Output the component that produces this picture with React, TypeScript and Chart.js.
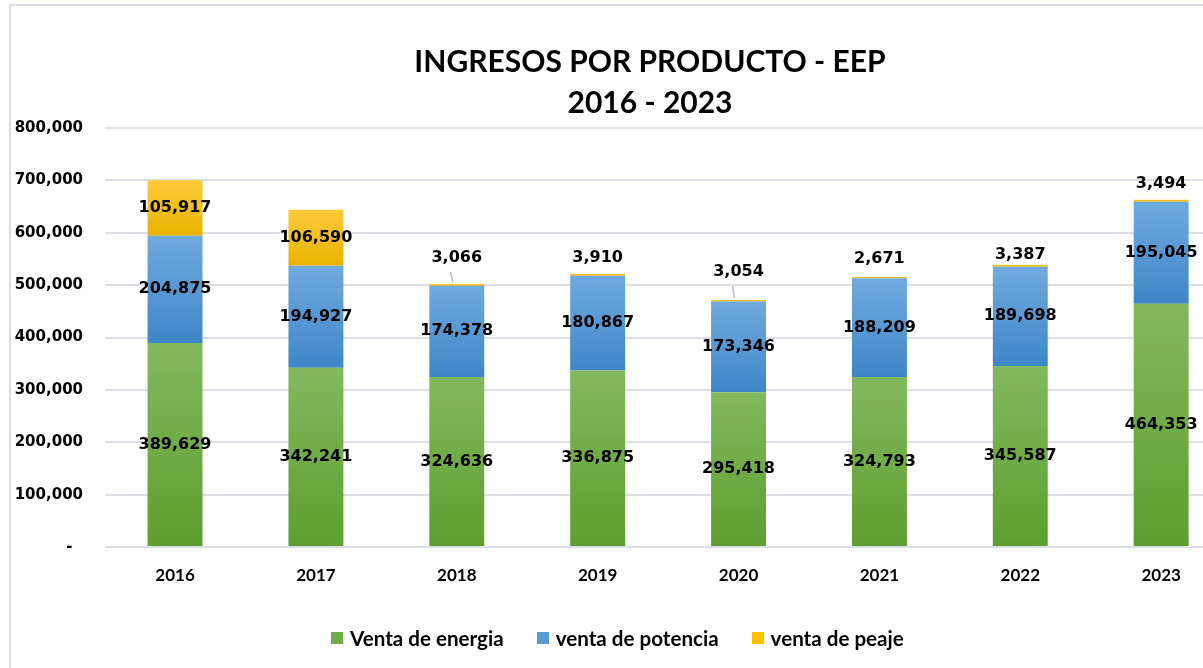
import React, { useEffect, useRef } from "react";
import { Chart, registerables } from "chart.js";

Chart.register(...registerables);

const years = ["2016", "2017", "2018", "2019", "2020", "2021", "2022", "2023"];
const ventaEnergia = [389629, 342241, 324636, 336875, 295418, 324793, 345587, 464353];
const ventaPotencia = [204875, 194927, 174378, 180867, 173346, 188209, 189698, 195045];
const ventaPeaje = [105917, 106590, 3066, 3910, 3054, 2671, 3387, 3494];
const seriesNames = ["Venta de energia", "venta de potencia", "venta de peaje"];
const titleLines = ["INGRESOS POR PRODUCTO - EEP", "2016 - 2023"];

// styling (not data)
const gradStops = [
  ["#82b95e", "#5e9e30"],
  ["#70aadf", "#3f86c7"],
  ["#ffca3a", "#e8b300"],
];
const legendColors = ["#70ad47", "#5b9bd5", "#ffc000"];
const peajeLift = [0, 0, 26, 16, 28, 18, 10, 16];
const peajeLeader = [false, false, true, false, true, false, false, false];

const allSeries = [ventaEnergia, ventaPotencia, ventaPeaje];

const fmt = (v: number) => v.toLocaleString("en-US");

function gradientFor(di: number) {
  return (ctx: any) => {
    const chart = ctx.chart;
    const y = chart.scales && chart.scales.y;
    if (!chart.chartArea || !y || ctx.type !== "data") return gradStops[di][0];
    const i = ctx.dataIndex;
    let start = 0;
    for (let k = 0; k < di; k++) start += allSeries[k][i];
    const end = start + allSeries[di][i];
    const top = y.getPixelForValue(end);
    const bottom = y.getPixelForValue(start);
    if (!isFinite(top) || !isFinite(bottom) || top === bottom) return gradStops[di][0];
    const g = chart.ctx.createLinearGradient(0, top, 0, bottom);
    g.addColorStop(0, gradStops[di][0]);
    g.addColorStop(1, gradStops[di][1]);
    return g;
  };
}

const titlePlugin = {
  id: "centeredTitle",
  afterDraw(chart: any) {
    const ctx = chart.ctx;
    ctx.save();
    ctx.font = 'bold 30px "Lato"';
    ctx.fillStyle = "#000";
    ctx.textAlign = "center";
    ctx.textBaseline = "middle";
    ctx.fillText(titleLines[0], 650, 62);
    ctx.fillText(titleLines[1], 650, 103);
    ctx.restore();
  },
};

const labelPlugin = {
  id: "segLabels",
  afterDatasetsDraw(chart: any) {
    const ctx = chart.ctx;
    ctx.save();
    ctx.font = 'bold 16px "DejaVu Sans"';
    ctx.fillStyle = "#000";
    ctx.textAlign = "center";
    ctx.textBaseline = "middle";
    chart.data.datasets.forEach((ds: any, di: number) => {
      const meta = chart.getDatasetMeta(di);
      meta.data.forEach((el: any, i: number) => {
        const v = ds.data[i];
        const { x, y, base } = el.getProps(["x", "y", "base"], true);
        const text = fmt(v);
        if (di === 2 && v < 50000) {
          const ly = y - peajeLift[i];
          if (peajeLeader[i]) {
            ctx.save();
            ctx.strokeStyle = "#b4bfcf";
            ctx.lineWidth = 1.5;
            ctx.beginPath();
            ctx.moveTo(x - 6, ly + 14);
            ctx.lineTo(x - 4, y - 2);
            ctx.stroke();
            ctx.restore();
          }
          ctx.fillText(text, x, ly);
        } else {
          ctx.fillText(text, x, (y + base) / 2);
        }
      });
    });
    ctx.restore();
  },
};

export default function App() {
  const ref = useRef<HTMLCanvasElement | null>(null);

  useEffect(() => {
    let chart: Chart | null = null;
    let cancelled = false;
    const make = () => {
      if (cancelled || !ref.current) return;
      chart = new Chart(ref.current, {
        type: "bar",
        data: {
          labels: years,
          datasets: allSeries.map((d, di) => ({
            label: seriesNames[di],
            data: d,
            backgroundColor: gradientFor(di),
            borderWidth: 0,
            barPercentage: 0.39,
            categoryPercentage: 1,
          })),
        },
        options: {
          animation: false,
          responsive: false,
          devicePixelRatio: 1,
          layout: { padding: { left: 0, right: 58.4, top: 128, bottom: 61 } },
          plugins: {
            legend: { display: false },
            tooltip: { enabled: false },
            title: { display: false },
          },
          scales: {
            x: {
              stacked: true,
              grid: { display: false },
              border: { display: false },
              ticks: {
                color: "#000",
                padding: 10,
                font: { family: "Lato", weight: "bold", size: 17 },
              },
              afterFit: (s: any) => {
                s.height = 60;
              },
            },
            y: {
              stacked: true,
              min: 0,
              max: 800000,
              border: { display: false },
              grid: { color: "#dcdfe6", lineWidth: 2, drawTicks: false },
              ticks: {
                stepSize: 100000,
                color: "#000",
                padding: 21.6,
                font: { family: "DejaVu Sans", weight: "bold", size: 15 },
                callback: (v: any) => (Number(v) === 0 ? "-  " : fmt(Number(v))),
              },
              afterFit: (s: any) => {
                s.width = 104.6;
              },
            },
          },
        },
        plugins: [labelPlugin, titlePlugin],
      });
    };
    const fontsReady = (document as any).fonts
      ? Promise.all([
          (document as any).fonts.load('bold 30px "Lato"'),
          (document as any).fonts.load('bold 15px "DejaVu Sans"'),
        ]).catch(() => null)
      : Promise.resolve(null);
    fontsReady.then(make);
    return () => {
      cancelled = true;
      if (chart) chart.destroy();
    };
  }, []);

  return (
    <div
      style={{
        position: "fixed",
        left: 0,
        top: 0,
        width: 1203,
        height: 668,
        overflow: "hidden",
        background: "#fff",
      }}
    >
      <div
        style={{
          position: "absolute",
          left: 9,
          top: 4,
          width: 1400,
          height: 800,
          borderLeft: "2px solid #d9dde5",
          borderTop: "2px solid #d9dde5",
        }}
      />
      <canvas
        ref={ref}
        width={1290}
        height={668}
        style={{ position: "absolute", left: 0, top: 0, width: 1290, height: 668 }}
      />
      <div
        style={{
          position: "absolute",
          left: 331,
          top: 628,
          height: 20,
          display: "flex",
          alignItems: "center",
          fontFamily: "Lato",
          fontWeight: "bold",
          fontSize: 20.6,
          color: "#000",
          whiteSpace: "nowrap",
        }}
      >
        {seriesNames.map((n, i) => (
          <div key={n} style={{ display: "flex", alignItems: "center", marginRight: 33 }}>
            <span
              style={{
                display: "inline-block",
                width: 12,
                height: 12,
                background: legendColors[i],
                marginRight: 7,
              }}
            />
            <span style={{ lineHeight: "20px" }}>{n}</span>
          </div>
        ))}
      </div>
    </div>
  );
}
